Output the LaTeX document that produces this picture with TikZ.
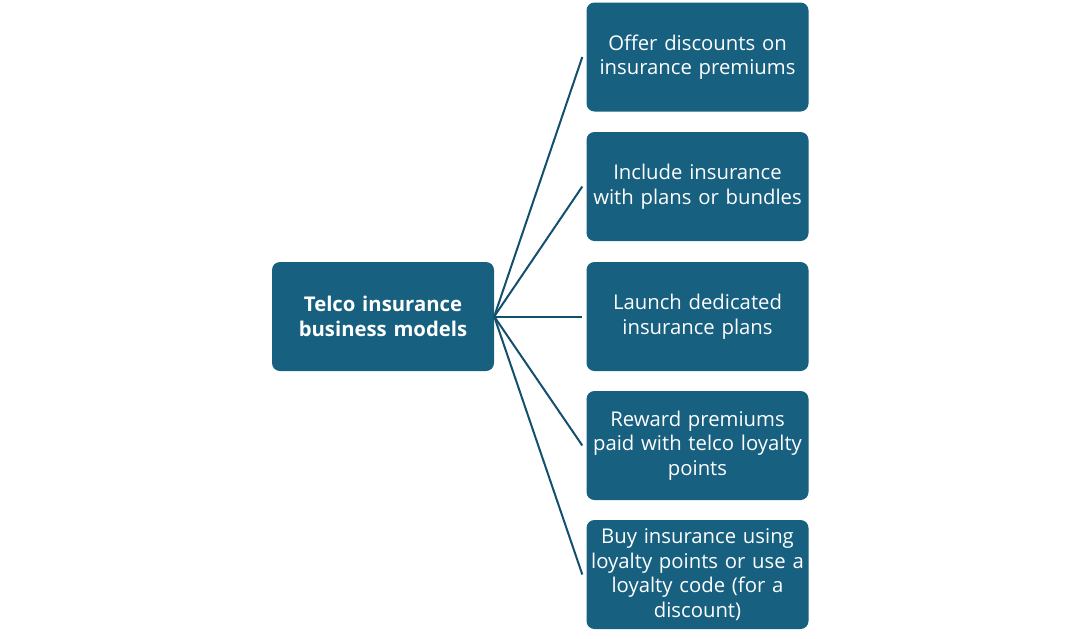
\documentclass[tikz,border=0pt]{standalone}
\usepackage{fontspec}
\setmainfont{Open Sans}
\definecolor{boxblue}{HTML}{17607F}
\definecolor{linkblue}{HTML}{12506E}
\begin{document}
\begin{tikzpicture}[x=1pt,y=-1pt,
  item/.style={fill=boxblue,rounded corners=8pt,minimum width=222pt,minimum height=109pt,
    text=white,align=center,text width=220pt,font=\fontsize{20.3}{24.5}\selectfont,inner sep=0pt},
  link/.style={draw=linkblue,line width=2pt}]
\useasboundingbox (0,0) rectangle (1080,638);
\node[item,font=\fontsize{20.3}{24.5}\selectfont\bfseries] (root) at (383,316.5) {Telco insurance\\business models};
\node[item] (a) at (697.5,57) {Offer discounts on\\insurance premiums};
\node[item] (b) at (697.5,186.5) {Include insurance\\with plans or bundles};
\node[item] (c) at (697.5,316.5) {Launch dedicated\\insurance plans};
\node[item] (d) at (697.5,445.5) {Reward premiums\\paid with telco loyalty\\points};
\node[item] (e) at (697.5,574.5) {Buy insurance using\\loyalty points or use a\\loyalty code (for a\\discount)};
\foreach \t in {a,b,c,d,e}
  \draw[link] (root.east) -- ([xshift=-4pt]\t.west);
\end{tikzpicture}
\end{document}
